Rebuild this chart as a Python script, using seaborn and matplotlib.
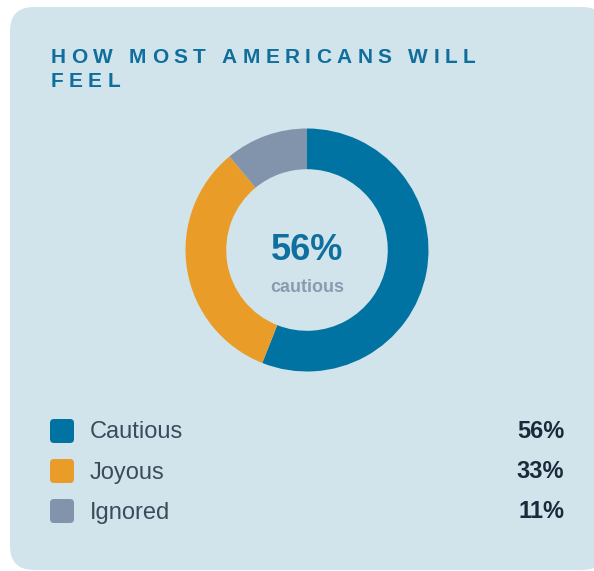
import matplotlib
matplotlib.use("Agg")
import matplotlib.pyplot as plt
from matplotlib.patches import FancyBboxPatch
import seaborn as sns

categories = ["Cautious", "Joyous", "Ignored"]
values = [56, 33, 11]
colors = ["#0073a3", "#e99c28", "#8194ab"]
title_lines = ["HOW MOST AMERICANS WILL", "FEEL"]
center_value = "56%"
center_label = "cautious"

sns.set_theme(style="white")
plt.rcParams["font.family"] = ["Liberation Sans", "DejaVu Sans"]

W, H = 594, 571
fig = plt.figure(figsize=(W / 100, H / 100), dpi=100)
fig.patch.set_facecolor("white")

# background axes in pixel coordinates (y down)
bg = fig.add_axes([0, 0, 1, 1])
bg.set_xlim(0, W)
bg.set_ylim(H, 0)
bg.axis("off")

card = FancyBboxPatch((10, 7), 596, 563, boxstyle="round,pad=0,rounding_size=24",
                      facecolor="#d1e4ec", edgecolor="none", zorder=0)
bg.add_patch(card)

renderer = fig.canvas.get_renderer()


def spaced_text(x, y, text, spacing, **kw):
    # letter-spaced text, one glyph at a time
    probe = bg.text(0, 0, "HH", **kw)
    w_hh = probe.get_window_extent(renderer).width
    probe.set_text("H H")
    space_w = probe.get_window_extent(renderer).width - w_hh
    probe.remove()
    for ch in text:
        if ch == " ":
            x += space_w + spacing
            continue
        t = bg.text(x, y, ch, ha="left", va="baseline", **kw)
        x += t.get_window_extent(renderer).width + spacing


title_kw = dict(fontsize=15, fontweight="bold", color="#0f6e9c")
spaced_text(50.5, 63, title_lines[0], 5.4, **title_kw)
spaced_text(50.5, 87, title_lines[1], 5.4, **title_kw)

# donut
cx, cy, r = 307, 250, 121.5
pie_ax = fig.add_axes([(cx - r) / W, 1 - (cy + r) / H, 2 * r / W, 2 * r / H])
pie_ax.pie(values, colors=colors, startangle=90, counterclock=False, radius=1,
           wedgeprops=dict(width=0.335, edgecolor="none"))
pie_ax.set_xlim(-1, 1)
pie_ax.set_ylim(-1, 1)
pie_ax.set_aspect("auto")
pie_ax.patch.set_alpha(0)
pie_ax.axis("off")

bg.text(cx, 259.5, center_value, ha="center", va="baseline", fontsize=26,
        fontweight="bold", color="#0f70a0", zorder=5)
bg.text(cx, 291.5, center_label, ha="center", va="baseline", fontsize=13,
        fontweight="bold", color="#8a9bb0", zorder=5)

# legend rows
for i, (cat, val, col) in enumerate(zip(categories, values, colors)):
    yc = 431 + 40 * i
    bg.add_patch(FancyBboxPatch((50, yc - 12), 24, 24,
                                boxstyle="round,pad=0,rounding_size=4",
                                facecolor=col, edgecolor="none", zorder=2))
    bg.text(90, yc + 7.5, cat, ha="left", va="baseline", fontsize=17,
            color="#3b4b5b")
    bg.text(564, yc + 7.5, f"{val}%", ha="right", va="baseline", fontsize=17,
            fontweight="bold", color="#1b2a3a")

fig.savefig("out.png", dpi=100, facecolor="white")
